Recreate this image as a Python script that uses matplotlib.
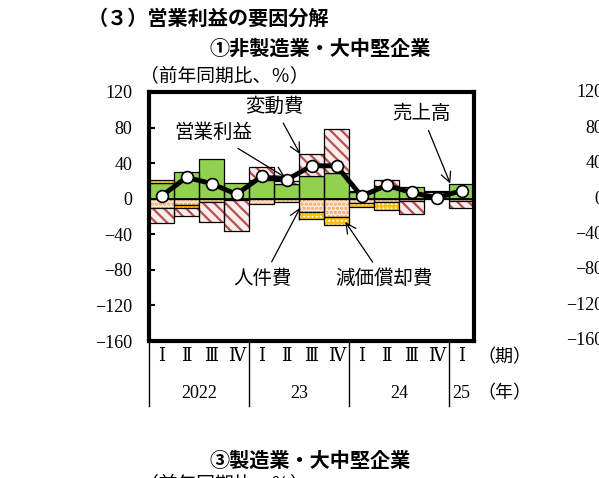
import numpy as np
import matplotlib.pyplot as plt
from matplotlib.transforms import blended_transform_factory

plt.rcParams['font.family'] = ['Liberation Serif', 'DejaVu Serif', 'Noto Sans CJK JP']
plt.rcParams['hatch.linewidth'] = 1.6

# 四半期・年ラベル
quarters = ['Ⅰ', 'Ⅱ', 'Ⅲ', 'Ⅳ', 'Ⅰ', 'Ⅱ', 'Ⅲ', 'Ⅳ', 'Ⅰ', 'Ⅱ', 'Ⅲ', 'Ⅳ', 'Ⅰ']
years = ['2022', '23', '24', '25']
year_first_q = [0, 4, 8, 12]

# 要因（前年同期比、%）
sales = [18, 30, 45, 18, 21, 17, 25, 29, 7, 14, 13, 3, 16]
personnel = [-10, -7, -4, -1, -6, -4, -15, -20, -5, -4, -3, 4, -3]
depreciation = [3, -3, 0, 0, 0, 0, -8, -9, -4, -9, 0, 2, 0]
variable = [-17, -9, -22, -35, 15, 3, 25, 49, 2, 7, -14, 0, -7]
op_profit = [3, 24, 17, 5, 25, 21, 37, 37, 3, 15, 7, 1, 9]

yticks = [-160, -120, -80, -40, 0, 40, 80, 120]

jp = 'Noto Sans CJK JP'

fig = plt.figure(figsize=(5.99, 4.78), dpi=100)
ax = fig.add_axes([149/599, 1-341/478, 325/599, 249/478])

x = np.arange(len(sales))
pos = np.zeros(len(x))
neg = np.zeros(len(x))
styles = [
    (sales, '#92D050', None, '#92D050'),
    (personnel, '#FDE9D9', '....', '#F4A460'),
    (depreciation, 'white', '++++', '#FFC000'),
    (variable, '#FBEDED', '\\\\\\', '#B5514F'),
]
for vals, fc, h, hc in styles:
    v = np.array(vals, dtype=float)
    base = np.where(v >= 0, pos, neg)
    m = v != 0
    ax.bar(x[m], v[m], bottom=base[m], width=1.0, color=fc, hatch=h,
           edgecolor=hc, lw=0, zorder=2)
    ax.bar(x[m], v[m], bottom=base[m], width=1.0, fill=False,
           edgecolor='black', lw=0.9, zorder=2)
    pos += np.clip(v, 0, None)
    neg += np.clip(v, None, 0)

ax.axhline(0, color='black', lw=1.3, zorder=3)
ax.plot(x, op_profit, color='black', lw=3.5, marker='o', ms=8.5,
        mfc='white', mec='black', mew=1.2, zorder=5)

ax.set_xlim(-0.5, 12.5)
ax.set_ylim(-160, 120)
ax.set_yticks(yticks)
ax.tick_params(axis='y', direction='in', length=4, width=1.5, labelsize=13, pad=12)
ax.set_xticks([])
for s in ax.spines.values():
    s.set_linewidth(3)

# 注記
arrow = dict(arrowstyle='->', lw=0.9, color='black', mutation_scale=18,
             shrinkA=3, shrinkB=0)
notes = [
    ('変動費', (5.55, 50), (4.5, 104)),
    ('営業利益', (4.95, 24), (2.05, 74)),
    ('売上高', (11.55, 17), (10.4, 96)),
    ('人件費', (5.55, -10), (4.05, -90)),
    ('減価償却費', (7.35, -26), (8.9, -90)),
]
for txt, tip, tpos in notes:
    ax.annotate(txt, xy=tip, xytext=tpos, ha='center', va='center',
                fontsize=14, family=jp, arrowprops=arrow, zorder=6)

# x軸の表ラベル
tr = blended_transform_factory(ax.transData, ax.transAxes)
for i, q in enumerate(quarters):
    ax.text(i, -0.064, q, transform=tr, ha='center', va='center', fontsize=13)
bounds = year_first_q + [len(x)]
for j, yr in enumerate(years):
    cx = (bounds[j] + bounds[j + 1]) / 2 - 0.5
    ax.text(cx, -0.21, yr, transform=tr, ha='center', va='center', fontsize=13)
for b in year_first_q:
    ax.plot([b - 0.5, b - 0.5], [0, -0.26], transform=tr, color='black',
            lw=1, clip_on=False)
ax.text(12.62, -0.064, '（期）', transform=tr, ha='left', va='center', fontsize=13, family=jp)
ax.text(12.62, -0.21, '（年）', transform=tr, ha='left', va='center', fontsize=13, family=jp)

# タイトル
fig.text(88/599, 1-18/478, '（３）営業利益の要因分解', ha='left', va='center',
         fontsize=14.5, family=jp, weight='bold')
fig.text(320/599, 1-48/478, '①非製造業・大中堅企業', ha='center', va='center',
         fontsize=14.5, family=jp, weight='bold')
fig.text(140/599, 1-76/478, '（前年同期比、％）', ha='left', va='center',
         fontsize=13.5, family=jp)

# 右隣と下のパネルの一部
for v in yticks:
    yp = 199 - v * 0.886
    fig.text(603/599, 1-yp/478, f'{v:d}'.replace('-', '−'), ha='right', va='center', fontsize=13)
fig.text(310/599, 1-460/478, '③製造業・大中堅企業', ha='center', va='center',
         fontsize=14.5, family=jp, weight='bold')
fig.text(140/599, 1-484/478, '（前年同期比、％）', ha='left', va='center',
         fontsize=13.5, family=jp)

fig.savefig('out.png', dpi=100)
